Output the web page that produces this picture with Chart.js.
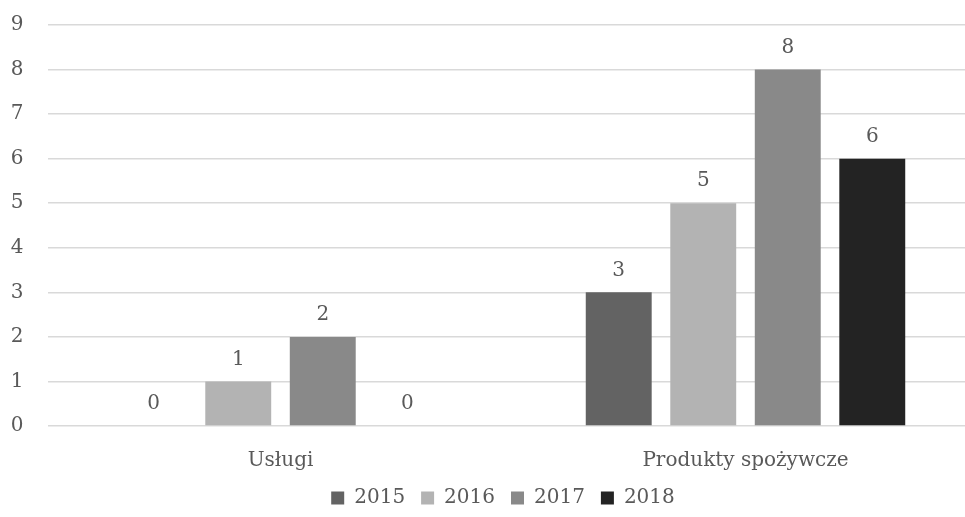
<!DOCTYPE html>
<html>
<head>
<meta charset="utf-8">
<script src="https://cdn.jsdelivr.net/npm/chart.js@4/dist/chart.umd.min.js"></script>
<style>
    html, body { margin: 0; padding: 0; background: #fff; overflow: hidden; }
    #wrap { position: absolute; left: 0; top: 0; width: 1004px; height: 530px; }
</style>
</head>
<body>
<div id="wrap"><canvas id="chart" width="1004" height="530"></canvas></div>
<script>
const categories = ['Usługi', 'Produkty spożywcze']
const years = ['2015', '2016', '2017', '2018']
const values2015 = [0, 3]
const values2016 = [1, 5]
const values2017 = [2, 8]
const values2018 = [0, 6]
const yTicks = [0, 1, 2, 3, 4, 5, 6, 7, 8, 9]

const colors = ['#636363', '#b3b3b3', '#898989', '#232323']
const textColor = '#595959'
const fontFamily = "'DejaVu Serif', 'Liberation Serif', serif"
const fontSize = 20

// Value labels above each bar, placed from the bar elements
const valueLabels = {
    id: 'valueLabels',
    afterDatasetsDraw(chart) {
        const ctx = chart.ctx
        ctx.save()
        ctx.font = `${fontSize}px ${fontFamily}`
        ctx.fillStyle = textColor
        ctx.textAlign = 'center'
        ctx.textBaseline = 'middle'
        chart.data.datasets.forEach((ds, i) => {
            chart.getDatasetMeta(i).data.forEach((bar, j) => {
                ctx.fillText(String(ds.data[j]), bar.x, bar.y - 22)
            })
        })
        ctx.restore()
    }
}

// Legend is centred on the whole (wider) chart, not on the plot
const legendShift = {
    id: 'legendShift',
    afterLayout(chart) {
        if (chart.legend) chart.legend.left += 28
    }
}

const seriesValues = [values2015, values2016, values2017, values2018]
const datasets = years.map((year, i) => ({
    label: year,
    data: seriesValues[i],
    backgroundColor: colors[i],
    borderWidth: 0,
    barPercentage: 0.78,
    categoryPercentage: 0.727,
}))

new Chart(document.getElementById('chart'), {
    type: 'bar',
    data: { labels: categories, datasets },
    options: {
        responsive: false,
        animation: false,
        devicePixelRatio: 1,
        layout: { padding: { left: 0, right: 26, top: 0, bottom: 12 } },
        plugins: {
            tooltip: { enabled: false },
            legend: {
                position: 'bottom',
                labels: {
                    boxWidth: 13,
                    boxHeight: 13,
                    padding: 16,
                    color: textColor,
                    font: { family: fontFamily, size: fontSize },
                },
            },
        },
        scales: {
            x: {
                grid: { display: false, drawTicks: false },
                border: { display: false },
                ticks: { color: textColor, padding: 23, font: { family: fontFamily, size: fontSize } },
                afterFit: scale => { scale.height = 46 },
            },
            y: {
                min: 0,
                max: yTicks[yTicks.length - 1],
                afterBuildTicks: scale => { scale.ticks = yTicks.map(v => ({ value: v })) },
                grid: { color: '#d9d9d9', lineWidth: 1.5, drawTicks: false },
                border: { display: false },
                ticks: { color: textColor, padding: 24.5, font: { family: fontFamily, size: fontSize } },
                afterFit: scale => {
                    scale.width = 48
                    scale.paddingTop = 25
                },
            },
        },
    },
    plugins: [valueLabels, legendShift],
})
</script>
</body>
</html>
